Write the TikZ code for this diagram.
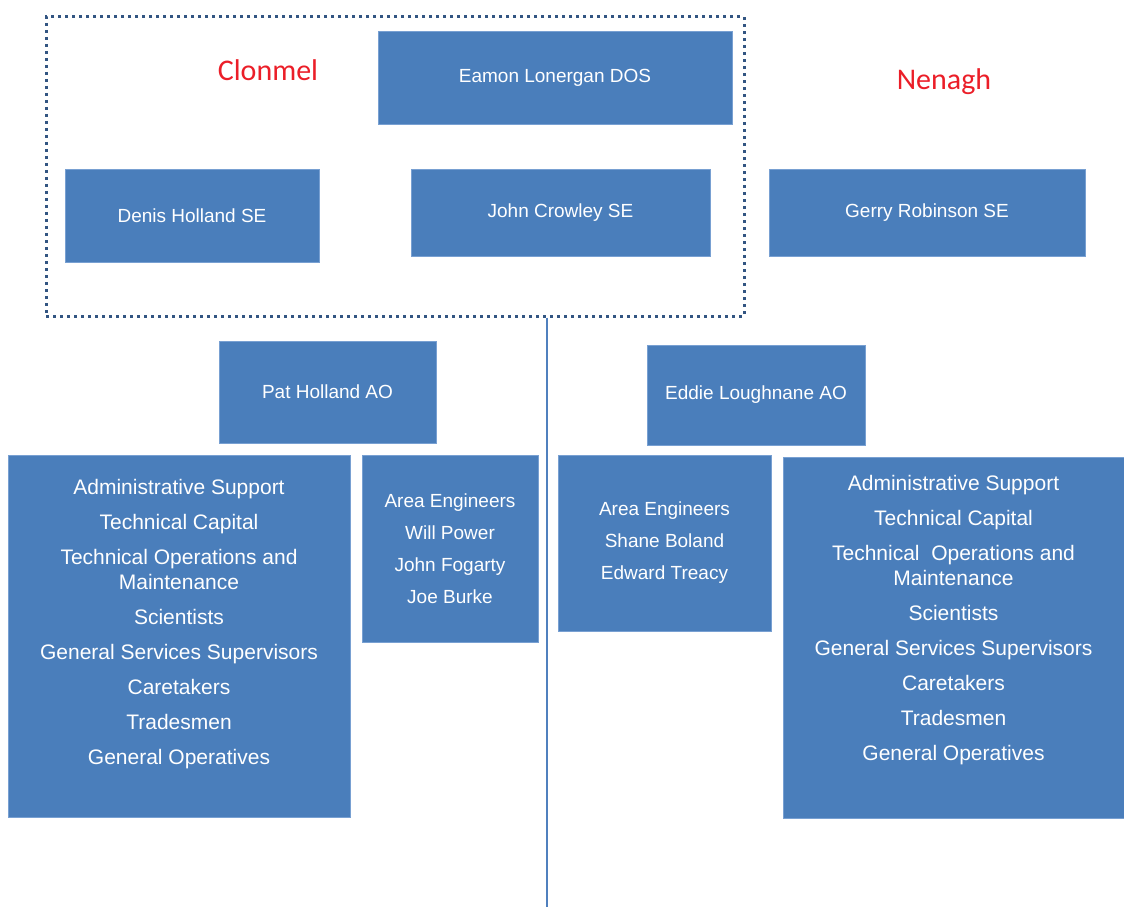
\documentclass[tikz,border=0pt]{standalone}
\usepackage{fontspec}
\setmainfont{Liberation Sans}
\newfontfamily\calibri{Carlito}
\definecolor{boxblue}{RGB}{74,126,187}
\definecolor{boxedge}{RGB}{120,160,210}
\definecolor{framecol}{RGB}{50,85,130}
\definecolor{linkcol}{RGB}{80,128,190}
\definecolor{titlered}{RGB}{235,30,40}
\begin{document}
\begin{tikzpicture}[x=1pt,y=-1pt,
  box/.style={rectangle, fill=boxblue, draw=boxedge, line width=0.8pt, text=white,
    inner sep=0pt, align=center, font=\fontsize{19}{32}\selectfont},
  listtext/.style={text=white, inner sep=0pt, align=center, font=\fontsize{21}{25}\selectfont},
  frame/.style={rectangle, draw=framecol, line width=3pt, dash pattern=on 3pt off 4pt, inner sep=0pt},
  title/.style={text=titlered, inner sep=0pt, font=\calibri\fontsize{30}{36}\selectfont},
  link/.style={draw=linkcol, line width=1.8pt}]
\useasboundingbox (0,0) rectangle (1124,907);

% dotted frame round the Clonmel management
\node[frame, minimum width=698, minimum height=299] (frame) at (395,166.5) {};

% trunk line
\coordinate (trunkend) at (547,907);
\draw[link] (frame.south -| trunkend) -- (trunkend);

% area titles
\node[title] (clonmel) at (268,70) {Clonmel};
\node[title] (nenagh) at (944,82) {Nenagh};

% senior staff
\node[box, minimum width=354, minimum height=93] (eamon) at (555,77.5) {Eamon Lonergan DOS};
\node[box, minimum width=254, minimum height=93] (denis) at (192,215.5) {Denis Holland SE};
\node[box, minimum width=299, minimum height=87] (crowley) at (560.5,212.5) {John Crowley SE};
\node[box, minimum width=316, minimum height=87] (gerry) at (927,212.5) {Gerry Robinson SE};

% administrative officers
\node[box, minimum width=217, minimum height=102] (pat) at (327.5,392) {Pat Holland AO};
\node[box, minimum width=218, minimum height=100] (eddie) at (756,395) {Eddie Loughnane AO};

% staff groups, Clonmel
\node[box, minimum width=342, minimum height=362] (leftgroups) at (179,636) {};
\node[listtext] (leftlist) at (179,624.5) {Administrative Support\\[10pt]Technical Capital\\[10pt]Technical Operations and\\Maintenance\\[10pt]Scientists\\[10pt]General Services Supervisors\\[10pt]Caretakers\\[10pt]Tradesmen\\[10pt]General Operatives};
\node[box, minimum width=176, minimum height=187] (leftengineers) at (450,548.5) {Area Engineers\\Will Power\\John Fogarty\\Joe Burke};

% staff groups, Nenagh
\node[box, minimum width=213, minimum height=176] (rightengineers) at (664.5,543) {Area Engineers\\Shane Boland\\Edward Treacy};
\node[box, minimum width=341, minimum height=361] (rightgroups) at (953.5,637.5) {};
\node[listtext] (rightlist) at (953.5,620.5) {Administrative Support\\[10pt]Technical Capital\\[10pt]Technical\ \ Operations and\\Maintenance\\[10pt]Scientists\\[10pt]General Services Supervisors\\[10pt]Caretakers\\[10pt]Tradesmen\\[10pt]General Operatives};
\end{tikzpicture}
\end{document}
